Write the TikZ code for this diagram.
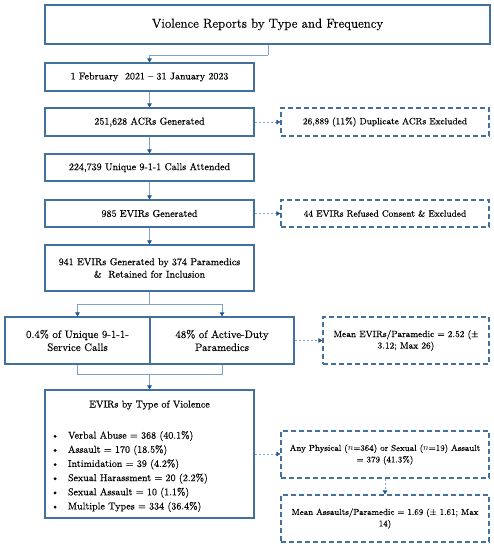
\documentclass[tikz,border=0pt]{standalone}
\usepackage{fontspec}
\setmainfont{Latin Modern Roman}[FakeBold=0.3, BoldFont={Latin Modern Roman}, BoldFeatures={FakeBold=2}]
\usetikzlibrary{arrows.meta,positioning}
\definecolor{boxblue}{RGB}{65,113,156}
\definecolor{lineblue}{RGB}{125,163,198}
\definecolor{tipblue}{RGB}{31,86,142}
\tikzset{
  x=1pt, y=-1pt,
  mainbox/.style={draw=boxblue, line width=1.1pt, rectangle, inner sep=0pt, align=center, font=\fontsize{10}{12.5}\selectfont},
  dbox/.style={draw=boxblue, line width=1.1pt, dash pattern=on 5pt off 3pt, rectangle, inner sep=0pt, align=center, font=\fontsize{9.1}{11.5}\selectfont},
  conn/.style={draw=lineblue, line width=0.8pt},
  arr/.style={conn, -{Triangle[length=4pt,width=4.5pt,color=tipblue]}},
  darr/.style={arr, dash pattern=on 2.5pt off 1.5pt},
}
\begin{document}
\begin{tikzpicture}
\useasboundingbox (0,0) rectangle (494,550);
\node[mainbox, minimum width=445pt, minimum height=39pt, font=\fontsize{13}{15}\selectfont] (title) at (267.5,24.5) {Violence Reports by Type and Frequency};
\node[mainbox, minimum width=209pt, minimum height=28pt] (b1) at (149.5,77) {1 February\ \ 2021 – 31 January 2023};
\node[mainbox, minimum width=209pt, minimum height=28pt] (b2) at (149.5,122) {251,628 ACRs Generated};
\node[dbox, minimum width=208pt, minimum height=28pt] (d2) at (385,122) {26,889 (11\%) Duplicate ACRs Excluded};
\node[mainbox, minimum width=209pt, minimum height=27pt] (b3) at (149.5,167.5) {224,739 Unique 9-1-1 Calls Attended};
\node[mainbox, minimum width=209pt, minimum height=27pt] (b4) at (149.5,213.5) {985 EVIRs Generated};
\node[dbox, minimum width=208pt, minimum height=27pt] (d4) at (385,213.5) {44 EVIRs Refused Consent \& Excluded};
\node[mainbox, minimum width=209pt, minimum height=46pt] (b5) at (149.5,268) {941 EVIRs Generated by 374 Paramedics\\ \&\ \ Retained for Inclusion};
\node[mainbox, minimum width=145pt, minimum height=47pt, font=\fontsize{10.8}{13}\selectfont] (sl) at (77.5,340.5) {0.4\% of Unique 9-1-1-\\Service Calls};
\node[mainbox, minimum width=144pt, minimum height=47pt, font=\fontsize{10.8}{13}\selectfont] (sr) at (222,340.5) {48\% of Active-Duty\\Paramedics};
\node[dbox, minimum width=166pt, minimum height=47pt] (d5) at (406,340.5) {Mean EVIRs/Paramedic = 2.52 (±\\3.12; Max 26)};
\node[mainbox, minimum width=209pt, minimum height=128pt] (b6) at (149.5,454) {};
\node[font=\fontsize{10}{12}\selectfont, inner sep=0pt] (b6t) at (149.5,405) {EVIRs by Type of Violence};
\node[font=\fontsize{10}{12}\selectfont, inner sep=0pt, anchor=north west] (b6l) at (51,428.5) {%
\renewcommand{\arraystretch}{1.18}%
\begin{tabular}{@{}l@{\hspace{9pt}}l@{}}
\textbullet & Verbal Abuse = 368 (40.1\%)\\
\textbullet & Assault = 170 (18.5\%)\\
\textbullet & Intimidation = 39 (4.2\%)\\
\textbullet & Sexual Harassment = 20 (2.2\%)\\
\textbullet & Sexual Assault = 10 (1.1\%)\\
\textbullet & Multiple Types = 334 (36.4\%)
\end{tabular}};
\node[dbox, minimum width=208pt, minimum height=47pt, font=\fontsize{8.7}{11.5}\selectfont] (d6) at (385,454.5) {Any Physical ($n$=364) or Sexual ($n$=19) Assault\\= 379 (41.3\%)};
\node[dbox, minimum width=208pt, minimum height=47pt, font=\fontsize{8.7}{11.5}\selectfont] (d7) at (385,518.5) {Mean Assaults/Paramedic = 1.69 (± 1.61; Max\\14)};
\coordinate (c0) at (268,55);
\coordinate (c1) at (149.5,304);
\coordinate (c2) at (149.5,374);
% connectors
\draw[conn] (title.south -| c0) -- (c0);
\draw[arr] (c0) -| (b1.north);
\draw[arr] (b1) -- (b2);
\draw[arr] (b2) -- (b3);
\draw[arr] (b3) -- (b4);
\draw[arr] (b4) -- (b5);
\draw[darr] (b2) -- (d2);
\draw[darr] (b4) -- (d4);
\draw[conn] (b5.south) -- (c1);
\draw[arr] (c1) -| (sl.north);
\draw[arr] (c1) -| (sr.north);
\draw[darr] (sr) -- (d5);
\draw[conn] (sl.south) |- (c2);
\draw[conn] (sr.south) |- (c2);
\draw[arr] (c2) -- (b6.north);
\draw[darr] (b6.east) -- (d6.west |- b6.east);
\draw[darr] (d6) -- (d7);
\end{tikzpicture}
\end{document}
